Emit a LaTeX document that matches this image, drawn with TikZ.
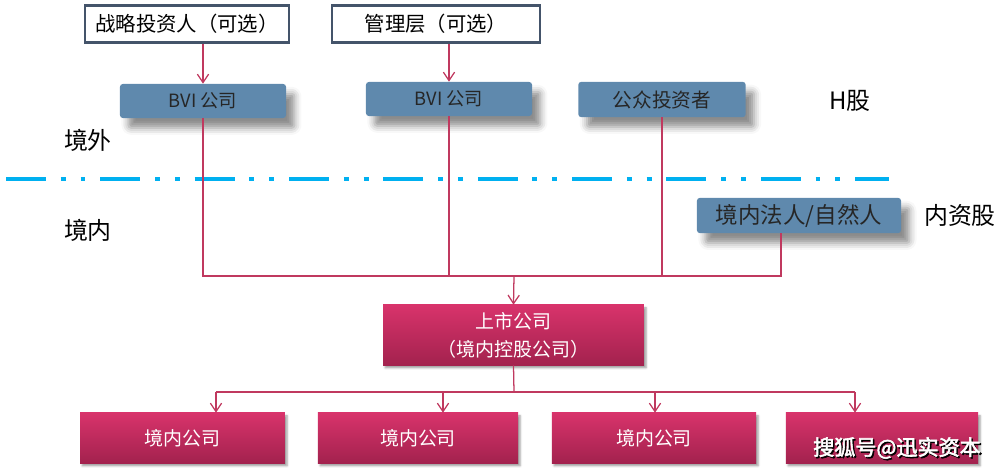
\documentclass[tikz,border=0pt]{standalone}
\usepackage{fontspec}
\setmainfont{Liberation Sans}
\newfontfamily\cjk{Noto Sans CJK SC}
\newfontfamily\cjkb[FakeBold=2.5]{Noto Sans CJK SC}
\usetikzlibrary{arrows.meta,shadows.blur}
\definecolor{slateline}{HTML}{44546A}
\definecolor{bvifill}{HTML}{5F89AD}
\definecolor{linkred}{HTML}{C0395F}
\definecolor{cotop}{HTML}{D8336B}
\definecolor{cobot}{HTML}{A3224E}
\definecolor{borderblue}{HTML}{00B0F0}
\begin{document}
\begin{tikzpicture}[x=0.025cm,y=-0.025cm,
    optbox/.style={draw=slateline,line width=2pt,fill=white,inner sep=0pt,
      font=\cjk\fontsize{14.5}{16}\selectfont},
    holder/.style={fill=bvifill,rounded corners=2pt,inner sep=0pt,text=black!85,
      blur shadow={shadow xshift=6pt,shadow yshift=-7pt,shadow blur radius=5pt,shadow opacity=45}},
    company/.style={top color=cotop,bottom color=cobot,inner sep=0pt,text=white,
      align=center,font=\cjk\fontsize{13.5}{20}\selectfont,
      blur shadow={shadow xshift=1.5pt,shadow yshift=-2pt,shadow blur radius=1.5pt,shadow opacity=40}},
    link/.style={draw=linkred,line width=0.9pt},
    arr/.style={link,-{Straight Barb[length=6pt,width=8pt]}},
    side/.style={font=\cjk\fontsize{17}{19}\selectfont}]
\useasboundingbox (0,0) rectangle (1002,472);

\node[optbox,minimum width=5.1cm,minimum height=0.92cm] (opt1) at (187,24) {战略投资人（可选）};
\node[optbox,minimum width=5.2cm,minimum height=0.92cm] (opt2) at (436,24) {管理层（可选）};

\node[holder,minimum width=4.15cm,minimum height=0.85cm,font=\cjk\fontsize{13}{15}\selectfont] (bvi1) at (203,101) {BVI 公司};
\node[holder,minimum width=4.15cm,minimum height=0.85cm,font=\cjk\fontsize{13}{15}\selectfont] (bvi2) at (449,99) {BVI 公司};
\node[holder,minimum width=4.18cm,minimum height=0.88cm,font=\cjk\fontsize{14}{16}\selectfont] (pub) at (662,99.5) {公众投资者};
\node[holder,minimum width=5.1cm,minimum height=0.88cm,font=\cjk\fontsize{16}{18}\selectfont] (dom) at (799,215.5) {境内法人/自然人};

\node[side] (hshare) at (850,101) {H股};
\node[side] (ashare) at (960,215) {内资股};
\node[side] (abroad) at (88,140) {境外};
\node[side] (inland) at (88,230) {境内};

\draw[borderblue,line width=3.5pt,dash pattern=on 28.3pt off 10.6pt on 3.5pt off 10.6pt on 3.5pt off 10.6pt]
  (6,179) -- (889,179);

\node[company,minimum width=6.52cm,minimum height=1.5cm] (listed) at (513.5,335) {上市公司\\（境内控股公司）};

\node[company,minimum width=5.12cm,minimum height=1.25cm] (sub1) at (182.5,438) {境内公司};
\node[company,minimum width=5cm,minimum height=1.25cm] (sub2) at (418,438) {境内公司};
\node[company,minimum width=5.1cm,minimum height=1.25cm] (sub3) at (654,438) {境内公司};
\node[company,minimum width=4.8cm,minimum height=1.25cm] (sub4) at (882,438) {};
\node[font=\cjkb\fontsize{15}{17}\selectfont,text=black] (markshadow) at (898.5,449.5) {搜狐号@迅实资本};
\node[font=\cjkb\fontsize{15}{17}\selectfont,text=white] (mark) at (897,448) {搜狐号@迅实资本};

\draw[arr] (opt1.south -| bvi1.north) -- (bvi1.north);
\draw[arr] (opt2.south -| bvi2.north) -- (bvi2.north);

\coordinate (bus) at (514,276);
\coordinate (domfoot) at ([xshift=-0.45cm]dom.south);
\draw[link] (bvi1.south) |- (domfoot |- bus) -- (domfoot);
\draw[link] (bvi2.south) -- (bvi2.south |- bus);
\draw[link] (pub.south) -- (pub.south |- bus);
\draw[arr] (bus) -- (listed.north);

\coordinate (fork) at (514,392);
\draw[link] (listed.south) -- (fork);
\coordinate (in1) at (216,392);
\coordinate (in2) at (443,392);
\coordinate (in3) at (655,392);
\coordinate (in4) at (855,392);
\draw[link] (in1) -- (in4);
\foreach \i in {1,...,4}
  \draw[arr] (in\i) -- (in\i |- sub\i.north);
\end{tikzpicture}
\end{document}
